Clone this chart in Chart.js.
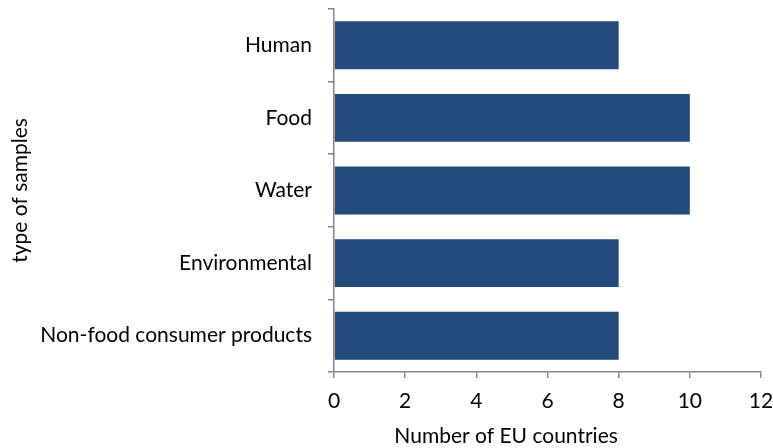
<!DOCTYPE html>
<html>
<head>
<meta charset="utf-8">
<script src="https://cdn.jsdelivr.net/npm/chart.js@4/dist/chart.umd.min.js"></script>
<style>
  html, body { margin: 0; padding: 0; background: #ffffff; }
  #wrap { width: 773px; height: 448px; }
</style>
</head>
<body>
<div id="wrap"><canvas id="c" width="773" height="448"></canvas></div>
<script>
// Sample types and how many EU countries reported each
const categories = ["Human", "Food", "Water", "Environmental", "Non-food consumer products"];
const countries = [8, 10, 10, 8, 8];
const xTicks = [0, 2, 4, 6, 8, 10, 12];
const xTitle = "Number of EU countries";
const yTitle = "type of samples";

const FONT = "Lato, 'Open Sans', sans-serif";
const AXIS_GREY = "#868686";

// Value-axis title, drawn under the tick labels and centred a little left of the plot
const xTitlePlugin = {
  id: "xTitle",
  afterDraw(chart) {
    const { ctx, chartArea } = chart;
    ctx.save();
    ctx.font = "21px " + FONT;
    ctx.fillStyle = "#000";
    ctx.textAlign = "center";
    ctx.textBaseline = "alphabetic";
    ctx.fillText(xTitle, chartArea.left + (chartArea.right - chartArea.left) * 0.403, chart.height - 5);
    ctx.restore();
  }
};

new Chart(document.getElementById("c"), {
  type: "bar",
  data: {
    labels: categories,
    datasets: [{
      data: countries,
      backgroundColor: "#224a7b",
      borderWidth: 0,
      categoryPercentage: 0.66,
      barPercentage: 1.0
    }]
  },
  plugins: [xTitlePlugin],
  options: {
    indexAxis: "y",
    responsive: false,
    animation: false,
    layout: { padding: { top: 9, right: 12, left: 0, bottom: 0 } },
    plugins: { legend: { display: false }, tooltip: { enabled: false } },
    scales: {
      x: {
        min: 0, max: 12,
        afterBuildTicks: (s) => { s.ticks = xTicks.map(v => ({ value: v })); },
        afterFit: (s) => { s.height = 76; s.paddingLeft = 0; s.paddingRight = 0; },
        grid: { drawOnChartArea: false, drawTicks: true, tickLength: 6, color: AXIS_GREY, lineWidth: 1.5 },
        border: { color: AXIS_GREY, width: 1.5 },
        ticks: { color: "#000", font: { family: FONT, size: 21 }, padding: 11 },
        title: { display: false }
      },
      y: {
        afterFit: (s) => { s.width = 334; s.paddingTop = 0; s.paddingBottom = 0; },
        grid: { offset: true, drawOnChartArea: false, drawTicks: true, tickLength: 6, color: AXIS_GREY, lineWidth: 1.5 },
        border: { color: AXIS_GREY, width: 1.5 },
        ticks: { color: "#000", font: { family: FONT, size: 21 }, padding: 16 },
        title: { display: true, text: yTitle, color: "#000", font: { family: FONT, size: 21 }, padding: { top: 8, bottom: 0 } }
      }
    }
  }
});
</script>
</body>
</html>
